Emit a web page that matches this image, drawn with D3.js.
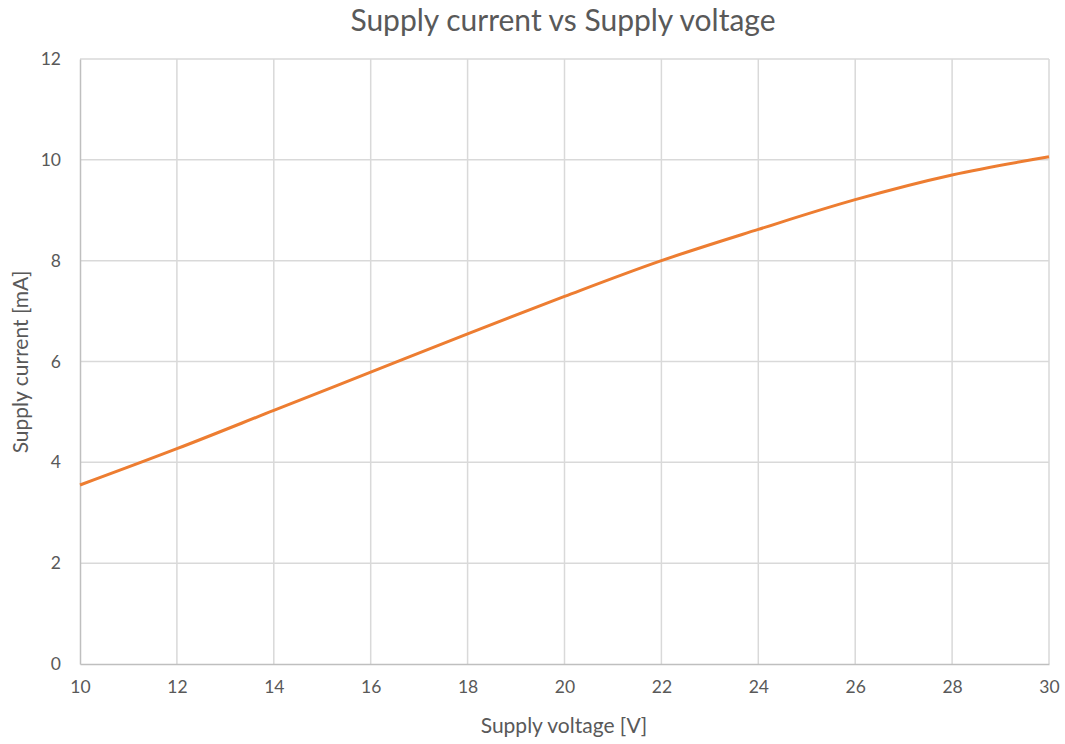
<!DOCTYPE html>
<html><head><meta charset="utf-8">
<script src="https://cdn.jsdelivr.net/npm/d3@7"></script>
<style>body{margin:0;background:#fff;} text{font-family:Lato,"Open Sans",sans-serif;fill:#595959;}</style>
</head><body>
<svg id="c" width="1065" height="744"></svg>
<script>
const voltage = [10, 12, 14, 16, 18, 20, 22, 24, 26, 28, 30];
const current = [3.55, 4.27, 5.03, 5.79, 6.55, 7.29, 8.0, 8.62, 9.21, 9.70, 10.06];
const xTicks = [10, 12, 14, 16, 18, 20, 22, 24, 26, 28, 30];
const yTicks = [0, 2, 4, 6, 8, 10, 12];

const svg = d3.select("#c");
const m = {l: 80, r: 1049, t: 59, b: 664};
const x = d3.scaleLinear().domain([10, 30]).range([m.l, m.r]);
const y = d3.scaleLinear().domain([0, 12]).range([m.b, m.t]);

// gridlines
svg.append("g").selectAll("line").data(xTicks.slice(1)).join("line")
  .attr("x1", d => x(d)).attr("x2", d => x(d)).attr("y1", m.t).attr("y2", m.b)
  .attr("stroke", "#d9d9d9").attr("stroke-width", 1.5);
svg.append("g").selectAll("line").data(yTicks.slice(1)).join("line")
  .attr("x1", m.l).attr("x2", m.r).attr("y1", d => y(d)).attr("y2", d => y(d))
  .attr("stroke", "#d9d9d9").attr("stroke-width", 1.5);

// axes
const xAxis = svg.append("g").attr("transform", `translate(0,${m.b})`)
  .call(d3.axisBottom(x).tickValues(xTicks).tickSize(0).tickPadding(17));
const yAxis = svg.append("g").attr("transform", `translate(${m.l},0)`)
  .call(d3.axisLeft(y).tickValues(yTicks).tickSize(0).tickPadding(19));
[xAxis, yAxis].forEach(a => {
  a.select(".domain").attr("stroke", "#bfbfbf").attr("stroke-width", 1.5);
  a.selectAll("text").style("font-size", "17.5px").style("font-family", "Lato,'Open Sans',sans-serif").attr("fill", "#595959");
});

// line
svg.append("path").datum(voltage.map((v, i) => [v, current[i]]))
  .attr("fill", "none").attr("stroke", "#ed7d31").attr("stroke-width", 3)
  .attr("d", d3.line().x(d => x(d[0])).y(d => y(d[1])).curve(d3.curveMonotoneX));

// titles
svg.append("text").attr("x", 563).attr("y", 31).attr("text-anchor", "middle")
  .style("font-size", "30px").text("Supply current vs Supply voltage");
svg.append("text").attr("x", 564).attr("y", 733).attr("text-anchor", "middle")
  .style("font-size", "21px").text("Supply voltage [V]");
svg.append("text").attr("transform", "translate(28,362) rotate(-90)").attr("text-anchor", "middle")
  .style("font-size", "21px").text("Supply current  [mA]");
</script>
</body></html>
